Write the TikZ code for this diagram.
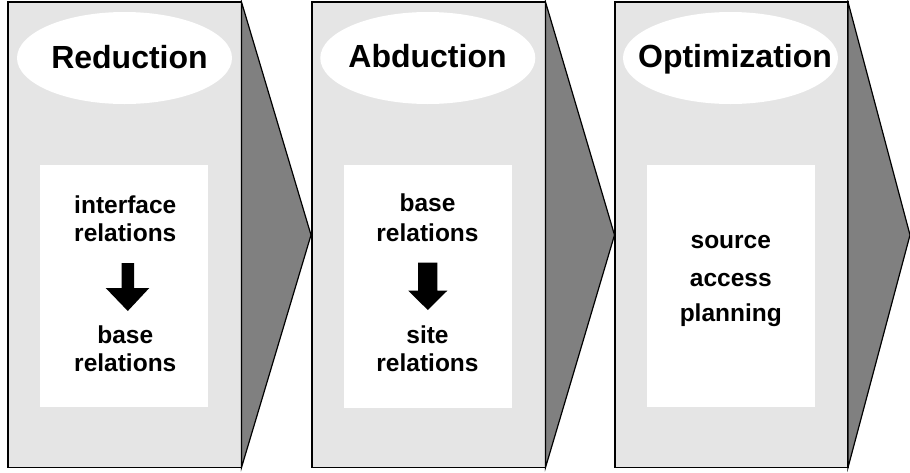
\documentclass[tikz,border=0pt]{standalone}
\usepackage{fontspec}
\setmainfont{Liberation Sans}
\usepackage{tikz}
\definecolor{panelgray}{gray}{0.9}
\definecolor{arrowgray}{gray}{0.5}
\tikzset{
  panel/.style={draw=black, line width=1.2pt, fill=panelgray},
  flow/.style={draw=black, line width=1.2pt, fill=arrowgray, line join=miter},
  heading/.style={font={\fontsize{32pt}{38pt}\selectfont\bfseries}, inner sep=0pt, anchor=base},
  item/.style={font={\fontsize{24.5pt}{29pt}\selectfont\bfseries}, inner sep=0pt, anchor=base}}

\begin{document}
\begin{tikzpicture}[x=1pt,y=-1pt]
\useasboundingbox (0,0) rectangle (910,472);
% panels
\draw [panel] (8,2) rectangle (241.5,467.5);
\draw [flow] (241.5,2) -- (311,235) -- (241.5,467.5) -- cycle;
\draw [panel] (312,2) rectangle (545.5,467.5);
\draw [flow] (545.5,2) -- (614.5,235) -- (545.5,467.5) -- cycle;
\draw [panel] (615,2) rectangle (848,467.5);
\draw [flow] (848,2) -- (910,235) -- (848,467.5) -- cycle;
% title ellipses
\fill [white] (124.5,58) ellipse [x radius=107.5, y radius=46];
\fill [white] (427.8,58) ellipse [x radius=107.5, y radius=46];
\fill [white] (730.5,58) ellipse [x radius=107.5, y radius=46];
\node [heading] (red) at (129.5,68) {Reduction};
\node [heading] (abd) at (427.5,67) {Abduction};
\node [heading] (opt) at (735,67) {Optimization};
% inner boxes
\fill [white] (40,165) rectangle (208,407);
\fill [white] (344,165) rectangle (511.7,408);
\fill [white] (647,165) rectangle (815,407);
% reduction
\node [item] (red1) at (125.3,213) {interface};
\node [item] (red2) at (125.3,241.7) {relations};
\fill [black] (121.7,263) -- (134,263) -- (134,288) -- (149.3,288) -- (127.8,311)
  -- (105.7,288) -- (121.7,288) -- cycle;
\node [item] (red3) at (125.3,343) {base};
\node [item] (red4) at (125.3,371.7) {relations};
% abduction
\node [item] (abd1) at (427.5,211.7) {base};
\node [item] (abd2) at (427.5,241.7) {relations};
\fill [black] (418,262.7) -- (437.3,262.7) -- (437.3,290.7) -- (447.3,290.7) -- (427.8,310)
  -- (408.3,290.7) -- (418,290.7) -- cycle;
\node [item] (abd3) at (427.5,343) {site};
\node [item] (abd4) at (427.5,371.7) {relations};
% optimization
\node [item] (opt1) at (730.8,248.3) {source};
\node [item] (opt2) at (730.8,286.7) {access};
\node [item] (opt3) at (730.8,321.7) {planning};
\end{tikzpicture}
\end{document}
